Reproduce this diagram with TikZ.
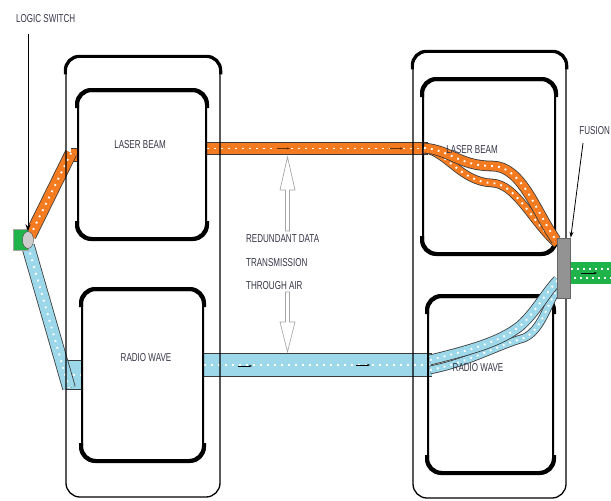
\documentclass[tikz,border=0pt]{standalone}
\usepackage{fontspec}
\setmainfont{Liberation Sans}
\usetikzlibrary{arrows.meta,shapes.geometric}
\definecolor{laser}{HTML}{F47B20}
\definecolor{radio}{HTML}{9DD8EA}
\definecolor{fgreen}{HTML}{1FB34A}
\definecolor{txt}{HTML}{353548}
\definecolor{edge}{HTML}{3A3A3A}
\newcommand\mypipe[3]{%
  \draw[line width=#2+1.6, edge] #3;
  \draw[line width=#2, #1] #3;
  \draw[line width=1.9, white, dash pattern=on 1.8 off 5.2] #3;}
\tikzset{
  outerbox/.style={draw, line width=1.3, rounded corners=14, minimum width=#1},
  innerbox/.style={draw, line width=2, rounded corners=14},
  lbl/.style={font=\fontsize{11.5}{13}\selectfont, text=txt, xscale=0.7, inner sep=0},
  hollow/.style={draw=gray!70, fill=white, line width=0.7},
  tiny/.style={-{Stealth[length=3pt]}, line width=0.6}
}
\begin{document}
\begin{tikzpicture}[x=1pt,y=-1pt]
\useasboundingbox (0,0) rectangle (611,501);

% ---- straight pipe segments (under boxes)
\mypipe{laser}{11}{(207,148.5) -- (428,148.5)}
\mypipe{laser}{12}{(71,155) -- (78,155)}
\mypipe{laser}{11}{(30,236) -- (71,153)}
\mypipe{radio}{22}{(204,365) -- (432,365)}
\mypipe{radio}{28}{(66,375) -- (82,375)}
\mypipe{radio}{12}{(28,246) -- (69,388)}

% ---- containers
\node[outerbox=154, minimum height=440] (lc) at (143,277) {};
\node[outerbox=153, minimum height=446] (rc) at (489.5,275) {};
\node[innerbox, minimum width=128, minimum height=147] (lt) at (142,164.5) {};
\node[innerbox, minimum width=121, minimum height=170] (lb) at (142.5,375) {};
\node[innerbox, minimum width=132, minimum height=173] (rt) at (489,166.5) {};
\node[innerbox, minimum width=125, minimum height=175] (rb) at (490.5,384.5) {};
\foreach \b in {lc,rc}{
  \draw[line width=3.2, rounded corners=14] ([yshift=-18pt]\b.north west) -- (\b.north west) -- (\b.north east) -- ([yshift=-18pt]\b.north east);}
\foreach \b in {lt,lb,rt,rb}{
  \draw[line width=4, rounded corners=14] ([yshift=-18pt]\b.north west) -- (\b.north west) -- (\b.north east) -- ([yshift=-18pt]\b.north east);
  \draw[line width=4, rounded corners=14] ([yshift=18pt]\b.south west) -- (\b.south west) -- (\b.south east) -- ([yshift=18pt]\b.south east);}

% ---- curved pipes into fusion
\mypipe{laser}{7}{(426,149) .. controls (448,154) and (462,182) .. (492,183) .. controls (516,184) and (532,222) .. (557,244)}
\mypipe{laser}{9}{(424,148) .. controls (450,150) and (460,166) .. (492,166) .. controls (522,166) and (536,212) .. (556,240)}
\mypipe{radio}{7}{(430,370) .. controls (470,362) and (496,346) .. (524,338) .. controls (542,330) and (548,302) .. (558,288)}
\mypipe{radio}{9}{(430,360) .. controls (470,350) and (500,342) .. (520,326) .. controls (536,312) and (546,292) .. (558,280)}

% ---- fusion + output
\node[draw=gray!80!black, fill=gray!85, line width=0.5, minimum width=13, minimum height=60, inner sep=0] (fus) at (564,268) {};
\node[fill=fgreen, minimum width=40, minimum height=22, inner sep=0, anchor=west] (out) at (fus.east |- 0,273) {};
\draw[white, line width=1.8, dash pattern=on 1.8 off 4.2] ([yshift=4pt]out.west) -- ([yshift=4pt]out.east);
\draw[white, line width=1.8, dash pattern=on 1.8 off 4.2, dash phase=3] ([yshift=-5pt]out.west) -- ([yshift=-5pt]out.east);
\draw[tiny] ([xshift=-10pt]out.center) -- ([xshift=6pt]out.center);

% ---- logic switch
\node[draw=gray!70, fill=fgreen, line width=0.8, minimum width=15, minimum height=21, inner sep=0] (sw) at (20.5,240) {};
\node[draw=gray!60!black, fill=gray!40, ellipse, minimum width=11, minimum height=17, inner sep=0] (swc) at (28,240) {};
\node[lbl, anchor=west] (lstxt) at (16,19) {LOGIC SWITCH};
\coordinate (lsa) at (28,34);
\draw[line width=1, -{Stealth[length=7pt,width=5pt]}] (lsa) -- (swc.north);

% ---- fusion label
\node[lbl, anchor=east] (fustxt) at (610,131) {FUSION};
\coordinate (fa) at (583,143);
\draw[line width=0.8, -{Stealth[length=6pt,width=4pt]}] (fa) -- (fus.north east);

% ---- labels
\node[lbl] (t1) at (140,145) {LASER BEAM};
\node[lbl] (t2) at (146,358) {RADIO WAVE};
\node[lbl] (t3) at (472,150) {LASER BEAM};
\node[lbl] (t4) at (478,368) {RADIO WAVE};
\node[lbl, anchor=west] (r1) at (246,239) {REDUNDANT DATA};
\node[lbl, anchor=west] (r2) at (246,263) {TRANSMISSION};
\node[lbl, anchor=west] (r3) at (246,286) {THROUGH AIR};

% ---- hollow arrows
\draw[hollow] (285.5,231) -- (285.5,190) -- (280,190) -- (287.5,157) -- (295,190) -- (289.5,190) -- (289.5,231) -- cycle;
\draw[hollow] (285.5,292) -- (285.5,322) -- (280,322) -- (287.5,352) -- (295,322) -- (289.5,322) -- (289.5,292) -- cycle;

% ---- tiny direction marks
\draw[tiny, laser!40!black] (277,148.5) -- (290,148.5);
\draw[tiny, laser!40!black] (390,148.5) -- (403,148.5);
\draw[tiny] (238,366) -- (252,366);
\draw[tiny] (356,365) -- (370,365);
\end{tikzpicture}
\end{document}
